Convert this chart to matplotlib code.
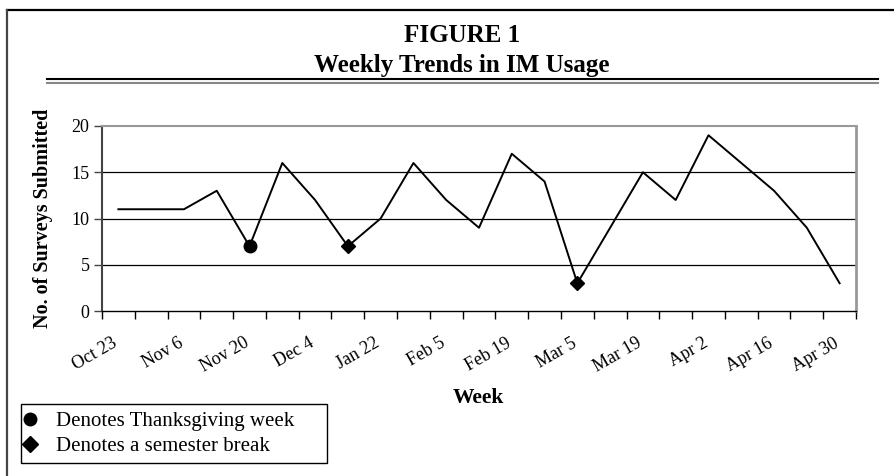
import matplotlib
matplotlib.use("Agg")
import matplotlib.pyplot as plt
import matplotlib.transforms as mtransforms
from matplotlib.lines import Line2D
from matplotlib.patches import Rectangle

plt.rcParams['font.family'] = ['Liberation Serif', 'DejaVu Serif']

# weekly data (23 weeks, Oct 23 .. Apr 30)
weeks = ["Oct 23", "Oct 30", "Nov 6", "Nov 13", "Nov 20", "Nov 27", "Dec 4",
         "Jan 15", "Jan 22", "Jan 29", "Feb 5", "Feb 12", "Feb 19", "Feb 26",
         "Mar 5", "Mar 12", "Mar 19", "Mar 26", "Apr 2", "Apr 9", "Apr 16",
         "Apr 23", "Apr 30"]
surveys = [11, 11, 11, 13, 7, 16, 12, 7, 10, 16, 12, 9, 17, 14, 3, 9, 15, 12,
           19, 16, 13, 9, 3]
thanksgiving = [4]
semester_break = [7, 14]
yticks = [0, 5, 10, 15, 20]

W, H = 895, 476
fig = plt.figure(figsize=(W / 100, H / 100), dpi=100)

def fx(px):
    return px / W

def fy(py):
    return 1 - py / H

ax = fig.add_axes([fx(102), fy(311), fx(856) - fx(102), fy(126) - fy(311)])

x = list(range(len(weeks)))
ax.plot(x, surveys, color='black', lw=1.4, zorder=3)
ax.plot([x[i] for i in thanksgiving], [surveys[i] for i in thanksgiving],
        'o', color='black', ms=9, zorder=4)
ax.plot([x[i] for i in semester_break], [surveys[i] for i in semester_break],
        'D', color='black', ms=7.5, zorder=4)

ax.set_xlim(-0.5, len(weeks) - 0.5)
ax.set_ylim(0, 20)

# gridlines
for v in yticks[1:-1]:
    ax.axhline(v, color='black', lw=0.9, zorder=1)

ax.set_yticks(yticks)
ax.tick_params(axis='y', length=6, width=1, labelsize=13, pad=3, color='#444444')

# tick marks at category edges, labels every other week
ax.set_xticks([i - 0.5 for i in range(len(weeks) + 1)])
ax.set_xticklabels([])
ax.tick_params(axis='x', which='major', length=6, width=1)
ax.set_xticks(x[::2], minor=True)
ax.set_xticklabels(weeks[::2], minor=True, rotation=30, ha='right',
                   rotation_mode='anchor', fontsize=13)
ax.tick_params(axis='x', which='minor', length=0, pad=17)
shift = mtransforms.ScaledTranslation(-0.065, 0, fig.dpi_scale_trans)
for lab in ax.get_xticklabels(minor=True):
    lab.set_transform(lab.get_transform() + shift)

ax.spines['top'].set_color('#999999')
ax.spines['top'].set_linewidth(1.5)
ax.spines['right'].set_color('#999999')
ax.spines['right'].set_linewidth(2)
ax.spines['left'].set_color('#444444')
ax.spines['left'].set_linewidth(1.5)
ax.spines['bottom'].set_color('black')
ax.spines['bottom'].set_linewidth(1)

fig.text(fx(478), fy(403), "Week", ha='center', va='baseline',
         fontsize=15.5, fontweight='bold')
fig.text(fx(43), fy(218), "No. of Surveys Submitted", ha='center', va='center',
         rotation=90, fontsize=14.5, fontweight='bold')

# titles
fig.text(fx(462), fy(42), "FIGURE 1", ha='center', va='baseline',
         fontsize=18, fontweight='bold')
fig.text(fx(462), fy(72), "Weekly Trends in IM Usage", ha='center',
         va='baseline', fontsize=18, fontweight='bold')

# double rule below title
fig.add_artist(Line2D([fx(47), fx(878)], [fy(79.3), fy(79.3)], color='black', lw=1.5))
fig.add_artist(Line2D([fx(47), fx(878)], [fy(83.3), fy(83.3)], color='#888888', lw=1.5))

# outer frame (cut off on right and bottom)
fig.add_artist(Line2D([fx(7), fx(W + 5)], [fy(9.5), fy(9.5)], color='black', lw=1.6))
fig.add_artist(Line2D([fx(7), fx(7)], [fy(9.5), fy(H + 5)], color='#444444', lw=1.6))

# legend box
fig.add_artist(Rectangle((fx(21), fy(463)), fx(327) - fx(21), fy(404) - fy(463),
                         transform=fig.transFigure, fill=False,
                         edgecolor='black', lw=1.0))
handles = [Line2D([], [], marker='o', color='black', ls='none', ms=9),
           Line2D([], [], marker='D', color='black', ls='none', ms=8)]
leg = fig.legend(handles, ["Denotes Thanksgiving week", "Denotes a semester break"],
                 loc='center left', bbox_to_anchor=(fx(23), fy(434)),
                 fontsize=15, frameon=False, borderaxespad=0, borderpad=0,
                 handlelength=0.7, handletextpad=0.9, labelspacing=0.25)

fig.savefig("out.png", dpi=100)
